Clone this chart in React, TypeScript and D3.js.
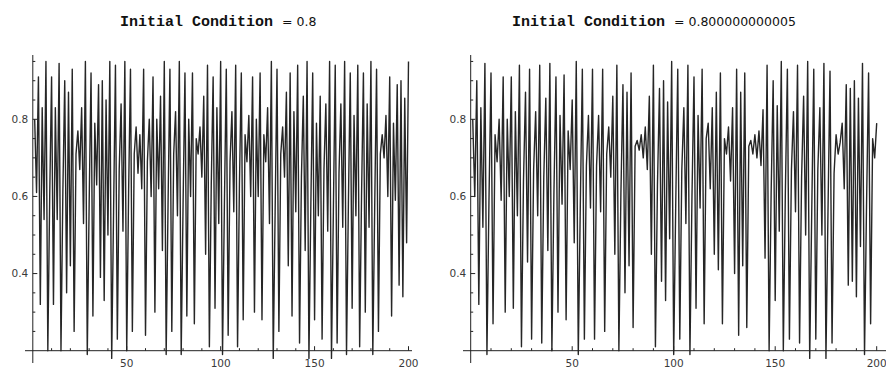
import React from "react";
import * as d3 from "d3";

// ---- data ----
const xIndex = d3.range(1, 201);

const series1 = [
  0.80, 0.61, 0.91, 0.32, 0.83, 0.54, 0.95, 0.20, 0.60, 0.91,
  0.32, 0.83, 0.54, 0.945, 0.20, 0.61, 0.90, 0.35, 0.87, 0.42,
  0.93, 0.25, 0.71, 0.77, 0.67, 0.83, 0.53, 0.95, 0.19, 0.58,
  0.92, 0.29, 0.79, 0.63, 0.89, 0.39, 0.90, 0.33, 0.85, 0.50,
  0.95, 0.18, 0.56, 0.94, 0.23, 0.67, 0.84, 0.51, 0.95, 0.20,
  0.61, 0.93, 0.25, 0.71, 0.78, 0.66, 0.76, 0.62, 0.93, 0.24,
  0.69, 0.80, 0.60, 0.91, 0.30, 0.80, 0.62, 0.86, 0.46, 0.95,
  0.19, 0.58, 0.93, 0.25, 0.71, 0.82, 0.55, 0.95, 0.19, 0.58,
  0.92, 0.29, 0.80, 0.60, 0.92, 0.27, 0.75, 0.71, 0.78, 0.65,
  0.86, 0.45, 0.94, 0.21, 0.63, 0.91, 0.31, 0.83, 0.53, 0.95,
  0.19, 0.58, 0.93, 0.24, 0.69, 0.82, 0.56, 0.94, 0.21, 0.63,
  0.92, 0.28, 0.76, 0.69, 0.81, 0.60, 0.91, 0.30, 0.80, 0.60,
  0.92, 0.28, 0.76, 0.69, 0.83, 0.53, 0.95, 0.18, 0.56, 0.93,
  0.25, 0.71, 0.78, 0.65, 0.87, 0.42, 0.92, 0.29, 0.82, 0.56,
  0.94, 0.22, 0.65, 0.86, 0.46, 0.95, 0.18, 0.57, 0.92, 0.28,
  0.79, 0.55, 0.86, 0.23, 0.67, 0.84, 0.51, 0.95, 0.18, 0.56,
  0.94, 0.22, 0.66, 0.84, 0.52, 0.95, 0.19, 0.58, 0.92, 0.31,
  0.81, 0.55, 0.94, 0.21, 0.60, 0.92, 0.30, 0.84, 0.52, 0.95,
  0.19, 0.57, 0.93, 0.25, 0.71, 0.76, 0.70, 0.81, 0.60, 0.91,
  0.29, 0.79, 0.59, 0.89, 0.37, 0.90, 0.34, 0.855, 0.48, 0.95,
];

const series2 = [
  0.80, 0.60, 0.90, 0.32, 0.83, 0.52, 0.945, 0.19, 0.59, 0.92,
  0.27, 0.76, 0.69, 0.80, 0.59, 0.91, 0.30, 0.80, 0.60, 0.91,
  0.31, 0.82, 0.55, 0.94, 0.21, 0.64, 0.87, 0.43, 0.93, 0.23,
  0.67, 0.82, 0.55, 0.94, 0.22, 0.65, 0.855, 0.46, 0.945, 0.20,
  0.61, 0.91, 0.30, 0.81, 0.58, 0.915, 0.28, 0.77, 0.67, 0.85,
  0.48, 0.95, 0.19, 0.58, 0.93, 0.23, 0.68, 0.81, 0.57, 0.93,
  0.23, 0.68, 0.81, 0.56, 0.93, 0.25, 0.71, 0.78, 0.65, 0.86,
  0.45, 0.94, 0.20, 0.61, 0.89, 0.35, 0.87, 0.42, 0.92, 0.26,
  0.73, 0.745, 0.72, 0.76, 0.70, 0.78, 0.67, 0.86, 0.45, 0.94,
  0.21, 0.63, 0.88, 0.38, 0.90, 0.33, 0.845, 0.49, 0.95, 0.19,
  0.58, 0.93, 0.23, 0.67, 0.83, 0.53, 0.94, 0.19, 0.60, 0.91,
  0.31, 0.81, 0.57, 0.93, 0.27, 0.75, 0.79, 0.62, 0.83, 0.45,
  0.87, 0.41, 0.92, 0.27, 0.75, 0.71, 0.78, 0.64, 0.83, 0.40,
  0.93, 0.24, 0.87, 0.42, 0.92, 0.26, 0.73, 0.745, 0.71, 0.76,
  0.70, 0.77, 0.68, 0.825, 0.44, 0.94, 0.20, 0.61, 0.90, 0.33,
  0.835, 0.51, 0.95, 0.20, 0.61, 0.93, 0.23, 0.67, 0.82, 0.56,
  0.94, 0.22, 0.65, 0.86, 0.50, 0.95, 0.18, 0.56, 0.93, 0.23,
  0.67, 0.83, 0.50, 0.945, 0.18, 0.56, 0.925, 0.22, 0.66, 0.76,
  0.71, 0.74, 0.79, 0.62, 0.89, 0.37, 0.88, 0.38, 0.90, 0.34,
  0.855, 0.47, 0.945, 0.19, 0.58, 0.92, 0.27, 0.75, 0.70, 0.79,
];

const titleLabel = "Initial Condition";
const initialConditions = ["0.8", "0.800000000005"];
const yMajorTicks = [0.4, 0.6, 0.8];
const yMinorTicks = [0.25, 0.3, 0.35, 0.45, 0.5, 0.55, 0.65, 0.7, 0.75, 0.85, 0.9, 0.95];
const xMajorTicks = [50, 100, 150, 200];
const xMinorTicks = [10, 20, 30, 40, 60, 70, 80, 90, 110, 120, 130, 140, 160, 170, 180, 190];

const AXIS_COLOR = "#222";
const LABEL_COLOR = "#3a3a3a";
const LINE_COLOR = "#262626";

type PanelProps = {
  data: number[];
  left: number;
  right: number;
  axisStart: number;
  axisEnd: number;
  title: string;
  titleX: number;
};

function Panel({ data, left, right, axisStart, axisEnd, title, titleX }: PanelProps) {
  const x = d3.scaleLinear().domain([0, 200]).range([left, right]);
  const y = d3.scaleLinear().domain([0.2, 0.8]).range([350.7, 119.3]);
  const line = d3
    .line<number>()
    .x((_, i) => x(xIndex[i]))
    .y((d) => y(d));
  const axisY = y(0.2);
  const axisX = x(0);

  return (
    <g>
      <text x={titleX} y={25.5} fill="#111">
        <tspan fontFamily="'Liberation Mono', 'DejaVu Sans Mono', monospace" fontWeight="bold" fontSize={15}>
          {titleLabel + " "}
        </tspan>
        <tspan fontFamily="'DejaVu Sans', Verdana, sans-serif" fontSize={12.5}>
          {"= " + title}
        </tspan>
      </text>

      <path d={line(data) || ""} fill="none" stroke={LINE_COLOR} strokeWidth={1.4} strokeLinejoin="round" />

      {/* x axis */}
      <line x1={axisStart} x2={axisEnd} y1={axisY} y2={axisY} stroke={AXIS_COLOR} strokeWidth={1} />
      {xMinorTicks.map((t) => (
        <line key={"xm" + t} x1={x(t)} x2={x(t)} y1={axisY} y2={axisY - 2.5} stroke={AXIS_COLOR} strokeWidth={1} />
      ))}
      {xMajorTicks.map((t) => (
        <g key={"xM" + t}>
          <line x1={x(t)} x2={x(t)} y1={axisY} y2={axisY - 4.5} stroke={AXIS_COLOR} strokeWidth={1} />
          <text
            x={x(t)}
            y={366.5}
            textAnchor="middle"
            fontFamily="'DejaVu Sans', Verdana, sans-serif"
            fontSize={10.5}
            fill={LABEL_COLOR}
          >
            {t}
          </text>
        </g>
      ))}

      {/* y axis */}
      <line x1={axisX} x2={axisX} y1={55} y2={363} stroke={AXIS_COLOR} strokeWidth={1} />
      {yMinorTicks.map((t) => (
        <line key={"ym" + t} x1={axisX} x2={axisX + 2.5} y1={y(t)} y2={y(t)} stroke={AXIS_COLOR} strokeWidth={1} />
      ))}
      {yMajorTicks.map((t) => (
        <g key={"yM" + t}>
          <line x1={axisX} x2={axisX + 4.5} y1={y(t)} y2={y(t)} stroke={AXIS_COLOR} strokeWidth={1} />
          <text
            x={axisX - 4.5}
            y={y(t) + 3.7}
            textAnchor="end"
            fontFamily="'DejaVu Sans', Verdana, sans-serif"
            fontSize={10.5}
            fill={LABEL_COLOR}
          >
            {t.toFixed(1)}
          </text>
        </g>
      ))}
    </g>
  );
}

export default function App() {
  return (
    <svg
      width={886}
      height={368}
      viewBox="0 0 886 368"
      style={{ position: "fixed", left: 0, top: 0, background: "#fff" }}
    >
      <rect x={0} y={0} width={886} height={368} fill="#fff" />
      <Panel data={series1} left={32.8} right={408.5} axisStart={25} axisEnd={412} title={initialConditions[0]} titleX={120} />
      <Panel data={series2} left={470.7} right={876.7} axisStart={463} axisEnd={886} title={initialConditions[1]} titleX={512} />
    </svg>
  );
}
